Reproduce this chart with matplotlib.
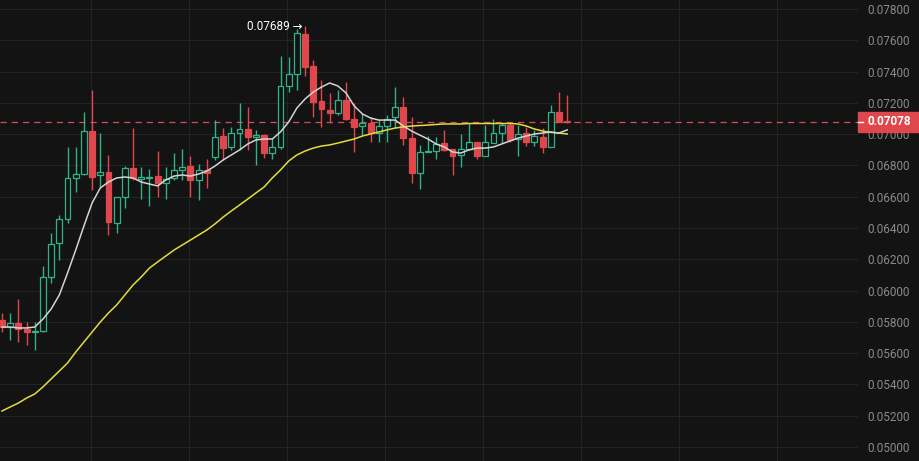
import matplotlib.pyplot as plt
import numpy as np
from matplotlib.patches import Rectangle
from matplotlib.lines import Line2D
from matplotlib import transforms

# candle data
opens = [0.05812, 0.05767, 0.05793, 0.05754, 0.05735, 0.05741, 0.06087, 0.06304, 0.06458, 0.06720,
         0.06745, 0.07020, 0.06739, 0.06758, 0.06432, 0.06598, 0.06784, 0.06713, 0.06720, 0.06732,
         0.06688, 0.06720, 0.06771, 0.06796, 0.06707, 0.06771, 0.06854, 0.06988, 0.06918, 0.07007,
         0.07033, 0.06982, 0.06995, 0.06879, 0.06918, 0.07308, 0.07384, 0.07640, 0.07436, 0.07212,
         0.07154, 0.07135, 0.07218, 0.07097, 0.07052, 0.07071, 0.07007, 0.07052, 0.07110, 0.07174,
         0.06975, 0.06752, 0.06886, 0.06892, 0.06943, 0.06905, 0.06867, 0.06905, 0.06950, 0.06860,
         0.06943, 0.07007, 0.07058, 0.06969, 0.07007, 0.06950, 0.06982, 0.06918, 0.07142, 0.07084]
highs = [0.05857, 0.05857, 0.05946, 0.05799, 0.05799, 0.06157, 0.06368, 0.06483, 0.06918, 0.06918,
         0.07142, 0.07282, 0.07007, 0.06867, 0.06598, 0.06796, 0.07039, 0.06790, 0.06777, 0.06892,
         0.06790, 0.06879, 0.06905, 0.06860, 0.06809, 0.06841, 0.07090, 0.07039, 0.07046, 0.07199,
         0.07174, 0.07027, 0.06998, 0.06975, 0.07500, 0.07493, 0.07672, 0.07689, 0.07474, 0.07346,
         0.07263, 0.07282, 0.07333, 0.07199, 0.07135, 0.07110, 0.07090, 0.07122, 0.07301, 0.07237,
         0.07110, 0.06931, 0.06988, 0.06982, 0.07027, 0.06905, 0.07001, 0.07071, 0.06950, 0.07058,
         0.07097, 0.07071, 0.07078, 0.07058, 0.07046, 0.07027, 0.07039, 0.07186, 0.07269, 0.07250]
lows = [0.05735, 0.05684, 0.05671, 0.05652, 0.05620, 0.05735, 0.06049, 0.06196, 0.06432, 0.06630,
        0.06739, 0.06643, 0.06662, 0.06355, 0.06368, 0.06528, 0.06707, 0.06585, 0.06541, 0.06598,
        0.06585, 0.06707, 0.06707, 0.06598, 0.06579, 0.06656, 0.06835, 0.06835, 0.06899, 0.06899,
        0.06899, 0.06803, 0.06847, 0.06841, 0.06905, 0.07269, 0.07282, 0.07372, 0.07110, 0.07046,
        0.07071, 0.07122, 0.07090, 0.06886, 0.06995, 0.06950, 0.06950, 0.06950, 0.07039, 0.06931,
        0.06688, 0.06649, 0.06886, 0.06841, 0.06892, 0.06739, 0.06790, 0.06899, 0.06841, 0.06860,
        0.06943, 0.06943, 0.06950, 0.06860, 0.06924, 0.06924, 0.06879, 0.06918, 0.07078, 0.07071]
closes = [0.05767, 0.05793, 0.05754, 0.05735, 0.05741, 0.06087, 0.06298, 0.06458, 0.06720, 0.06745,
          0.07020, 0.06726, 0.06758, 0.06438, 0.06598, 0.06784, 0.06720, 0.06726, 0.06726, 0.06688,
          0.06713, 0.06771, 0.06790, 0.06707, 0.06771, 0.06752, 0.06982, 0.06911, 0.07007, 0.07033,
          0.06982, 0.06995, 0.06879, 0.06918, 0.07308, 0.07384, 0.07647, 0.07429, 0.07205, 0.07161,
          0.07135, 0.07218, 0.07097, 0.07046, 0.07071, 0.07007, 0.07052, 0.07097, 0.07174, 0.06975,
          0.06752, 0.06886, 0.06892, 0.06937, 0.06899, 0.06860, 0.06905, 0.06950, 0.06860, 0.06950,
          0.07007, 0.07058, 0.06963, 0.07001, 0.06950, 0.06988, 0.06918, 0.07142, 0.07078, 0.07078]

# moving averages as drawn on the reference
ma_short = [0.05767, 0.05767, 0.05761, 0.05761, 0.05767, 0.05818, 0.05882, 0.05972, 0.06112, 0.06259,
            0.06413, 0.06560, 0.06656, 0.06694, 0.06720, 0.06726, 0.06720, 0.06694, 0.06681, 0.06669,
            0.06707, 0.06732, 0.06739, 0.06732, 0.06745, 0.06764, 0.06796, 0.06835, 0.06867, 0.06899,
            0.06937, 0.06963, 0.06969, 0.06969, 0.07014, 0.07078, 0.07167, 0.07225, 0.07269, 0.07301,
            0.07327, 0.07308, 0.07263, 0.07180, 0.07129, 0.07103, 0.07090, 0.07090, 0.07090, 0.07052,
            0.07020, 0.06994, 0.06969, 0.06937, 0.06918, 0.06886, 0.06879, 0.06899, 0.06911, 0.06911,
            0.06918, 0.06937, 0.06956, 0.06975, 0.06988, 0.07001, 0.07007, 0.07014, 0.07007, 0.07027]
ma_long = [0.05230, 0.05256, 0.05281, 0.05313, 0.05339, 0.05384, 0.05435, 0.05486, 0.05537, 0.05607,
           0.05671, 0.05735, 0.05799, 0.05857, 0.05908, 0.05972, 0.06036, 0.06087, 0.06144, 0.06183,
           0.06221, 0.06259, 0.06291, 0.06323, 0.06355, 0.06387, 0.06426, 0.06470, 0.06509, 0.06547,
           0.06585, 0.06624, 0.06662, 0.06720, 0.06771, 0.06828, 0.06867, 0.06892, 0.06911, 0.06924,
           0.06931, 0.06943, 0.06956, 0.06969, 0.06988, 0.07001, 0.07014, 0.07027, 0.07039, 0.07046,
           0.07052, 0.07055, 0.07058, 0.07062, 0.07065, 0.07065, 0.07065, 0.07068, 0.07068, 0.07068,
           0.07068, 0.07068, 0.07068, 0.07065, 0.07052, 0.07033, 0.07020, 0.07011, 0.07007, 0.07001]

price_ticks = [0.050, 0.052, 0.054, 0.056, 0.058, 0.060, 0.062, 0.064,
               0.066, 0.068, 0.070, 0.072, 0.074, 0.076, 0.078]
last_price = 0.07078
high_index = 37

BG = "#131313"
GREEN = "#2fb48a"
RED = "#e0474c"
GRID = "#232323"

plt.rcParams["font.family"] = ["Roboto", "DejaVu Sans"]

fig = plt.figure(figsize=(9.19, 4.61), dpi=100, facecolor=BG)
ax = fig.add_axes([0, 0, 858 / 919, 1])
ax.set_facecolor(BG)

o = np.array(opens)
c = np.array(closes)
x = np.arange(len(c))
up = c >= o
colors = np.where(up, GREEN, RED)
faces = np.where(up, BG, RED)
bottom = np.minimum(o, c)
height = np.maximum(np.abs(c - o), 0.00007)

ax.vlines(x, lows, highs, colors=colors, linewidth=1.0, zorder=2)
ax.bar(x, height, bottom=bottom, width=0.72, color=faces, edgecolor=colors,
       linewidth=0.9, zorder=3)

ax.plot(x, ma_long, color="#e3dc3c", linewidth=1.1, zorder=4)
ax.plot(x, ma_short, color="#d4d4d4", linewidth=1.1, zorder=4)

ax.axhline(last_price, color="#d0505a", linewidth=0.9, linestyle=(0, (5, 4)), zorder=1)

ax.text(high_index - 0.3, highs[high_index], f"{highs[high_index]:.5f} \u2192",
        ha="right", va="center", color="white", fontsize=8.5, zorder=6)

ax.set_xlim(-0.244, 104.5)
ax.set_ylim(0.049105, 0.078575)
ax.set_xticks([10.85 + 11.96 * k for k in range(8)])
ax.tick_params(axis="x", length=0, labelbottom=False)
ax.yaxis.tick_right()
ax.set_yticks(price_ticks)
ax.set_yticklabels([f"{t:.5f}" for t in price_ticks])
ax.tick_params(axis="y", length=0, pad=6.5, labelsize=8.5, labelcolor="#8a8a8a")
ax.grid(color=GRID, linewidth=0.8)
ax.set_axisbelow(True)
for spine in ax.spines.values():
    spine.set_visible(False)

# last price tag on the right
trans = transforms.blended_transform_factory(ax.transAxes, ax.transData)
half = 0.00064
ax.add_patch(Rectangle((1.0, last_price - half), 62 / 858, 2 * half, transform=trans,
                       color=RED, clip_on=False, zorder=10))
ax.add_line(Line2D([1.0, 1.006], [last_price, last_price], transform=trans, color="white",
                   linewidth=1.0, clip_on=False, zorder=11))
ax.text(1.0115, last_price, f"{last_price:.5f}", transform=trans, ha="left", va="center",
        color="white", fontsize=8.5, fontweight="bold", zorder=12, clip_on=False)

fig.savefig("out.png", dpi=100, facecolor=BG)
